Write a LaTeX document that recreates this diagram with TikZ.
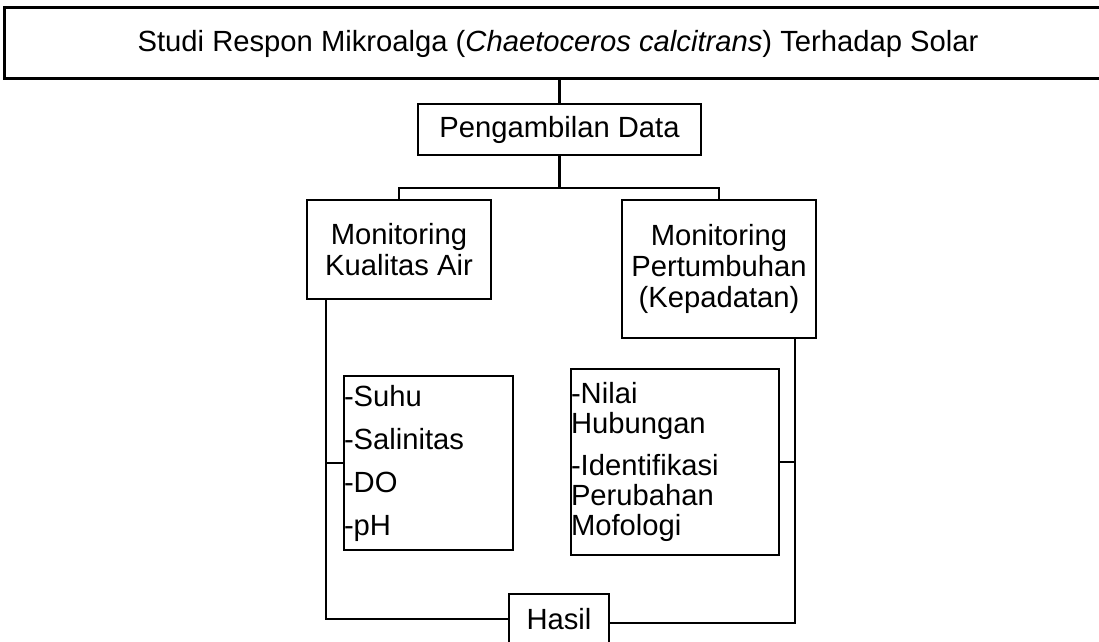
\documentclass[tikz,border=0pt]{standalone}
\usepackage{fontspec}
\setmainfont{Liberation Sans}
\begin{document}
\begin{tikzpicture}[x=0.5pt,y=-0.5pt,
  kotak/.style={draw, line width=1.4pt, inner sep=0pt, align=center,
    font=\fontsize{14.6}{15.6}\selectfont},
  garis/.style={line width=1.4pt}]
\useasboundingbox (0,0) rectangle (1099,642);
\node[kotak, line width=1.5pt, minimum width=554pt, minimum height=35.5pt] (judul) at (558,43.5) {Studi Respon Mikroalga (\textit{Chaetoceros calcitrans}) Terhadap Solar};
\node[kotak, minimum width=141.5pt, minimum height=25.5pt] (ambil) at (559.5,129.5) {Pengambilan Data};
\node[kotak, minimum width=92pt, minimum height=49.5pt] (kualitas) at (399,249.5) {Monitoring\\Kualitas Air};
\node[kotak, minimum width=97pt, minimum height=69pt] (tumbuh) at (719,269) {Monitoring\\Pertumbuhan\\(Kepadatan)};
\node[kotak, minimum width=84.5pt, minimum height=87pt, text width=84.5pt, align=left,
  font=\fontsize{14.6}{21.5}\selectfont] (param) at (428.5,463) {-Suhu\\-Salinitas\\-DO\\-pH};
\node[kotak, minimum width=104pt, minimum height=93pt, text width=104pt, align=left,
  font=\fontsize{14.6}{15}\selectfont] (analisis) at (675,462) {-Nilai\\Hubungan\\[6pt]-Identifikasi\\Perubahan\\Mofologi};
\node[kotak, minimum width=50pt, minimum height=25pt] (hasil) at (559,619) {Hasil};
\coordinate (cabang) at (559.5,188);
\coordinate (kiri) at (326,299);
\coordinate (kanan) at (795,338);
\draw[garis] (ambil.north |- judul.south) -- (ambil.north);
\draw[garis] (ambil.south) -- (cabang);
\draw[garis] (kualitas.north) |- (cabang) -| (tumbuh.north);
\draw[garis] (kiri) |- (hasil.west);
\draw[garis] (param.west) -- (param.west -| kiri);
\draw[garis] (analisis.east) -- (analisis.east -| kanan);
\draw[garis] (kanan) -- (analisis.east -| kanan);
\draw[line width=0.8pt] (analisis.east -| kanan) |- ([yshift=-2pt]hasil.east);
\end{tikzpicture}
\end{document}
